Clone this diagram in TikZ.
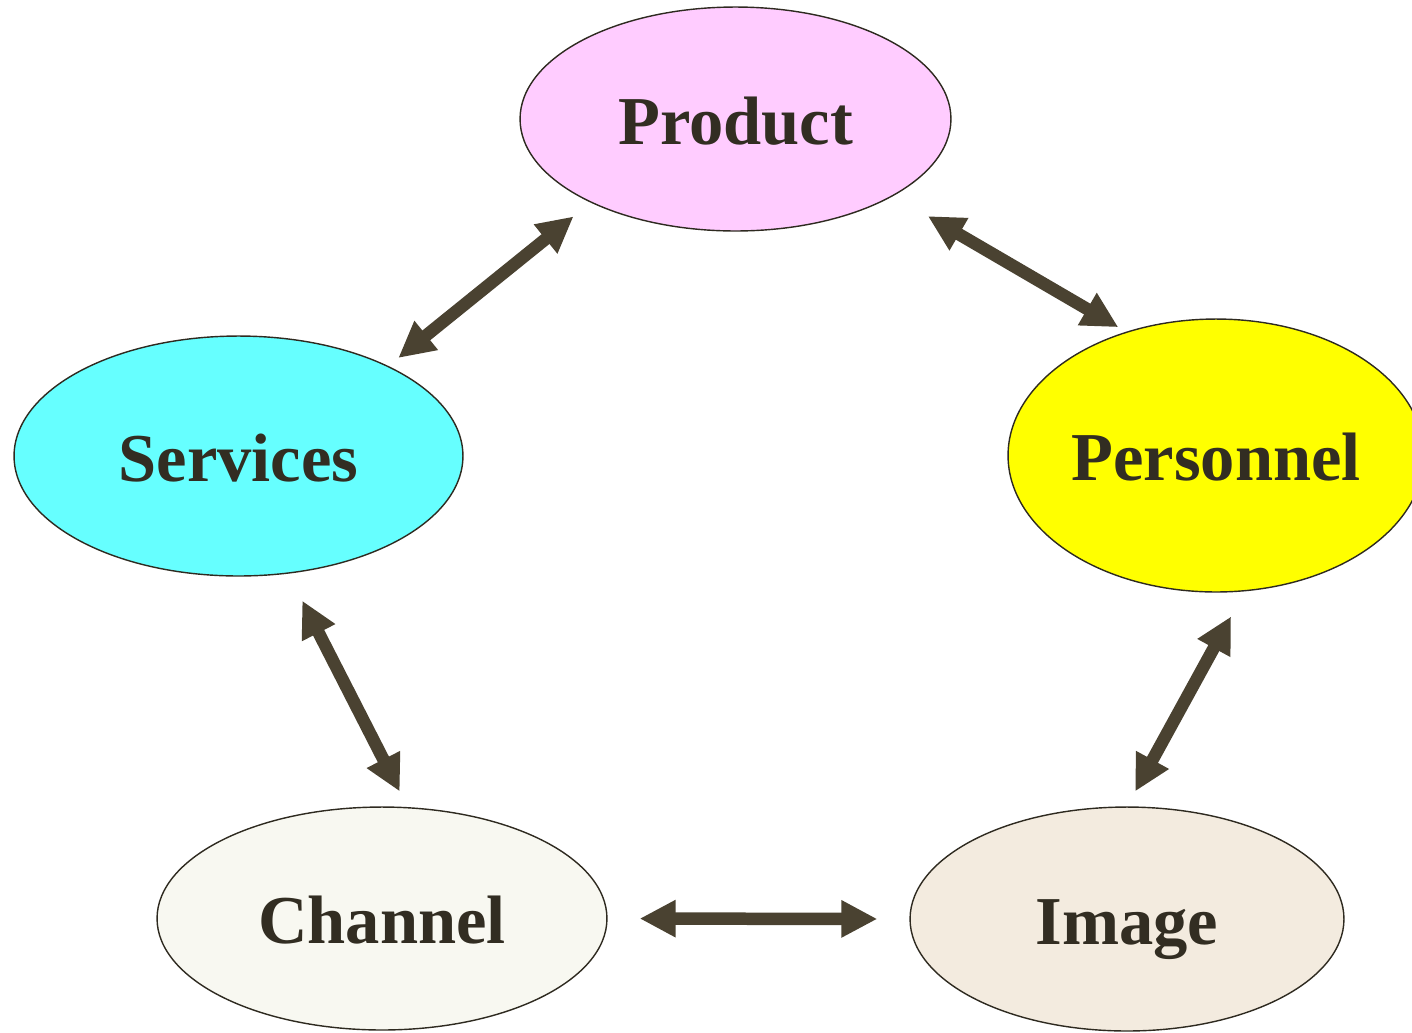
\documentclass[tikz,border=0pt]{standalone}
\usepackage{fontspec}
\setmainfont{Liberation Serif}
\usetikzlibrary{shapes.geometric,arrows.meta}
\definecolor{prdfill}{HTML}{FFCCFF}
\definecolor{srvfill}{HTML}{66FFFF}
\definecolor{perfill}{HTML}{FFFF00}
\definecolor{chnfill}{HTML}{F8F8F1}
\definecolor{imgfill}{HTML}{F3EBDF}
\definecolor{edgecol}{HTML}{2E2A20}
\definecolor{txtcol}{HTML}{322D22}
\definecolor{arrowcol}{HTML}{4A4231}
\begin{document}
\begin{tikzpicture}[x=0.02cm,y=0.02cm,
  blob/.style={ellipse,draw=edgecol,line width=0.8pt,inner sep=0pt,text=txtcol,
    font=\fontsize{39}{47}\selectfont\bfseries,text height=29pt,text depth=0pt},
  link/.style={draw=arrowcol,line width=0.25cm,
    {Triangle[length=0.72cm,width=0.7cm]}-{Triangle[length=0.72cm,width=0.7cm]}}]
\useasboundingbox (0,0) rectangle (1412,-1032);
% the five ellipses
\node [blob,fill=prdfill,minimum width=8.62cm,minimum height=4.48cm] (prd) at (735.5,-119) {Product};
\node [blob,fill=srvfill,minimum width=8.98cm,minimum height=4.8cm] (srv) at (238.5,-456) {Services};
\node [blob,fill=perfill,minimum width=8.32cm,minimum height=5.46cm] (per) at (1216,-455.5) {Personnel};
\node [blob,fill=chnfill,minimum width=9cm,minimum height=4.46cm] (chn) at (382,-918.5) {Channel};
\node [blob,fill=imgfill,minimum width=8.68cm,minimum height=4.48cm] (img) at (1127,-919) {Image};
% two-way arrows
\draw [link,shorten <=0.254cm,shorten >=0.44cm] (srv.31) -- (prd.210);
\draw [link,shorten <=0.8cm,shorten >=0.18cm] (prd.334) -- (per.126);
\draw [link,shorten <=0.606cm,shorten >=0.35cm] (srv.293) -- (chn.77);
\draw [link,shorten <=0.572cm,shorten >=0.34cm] (per.282) -- (img.90);
\draw [link,shorten <=0.64cm,shorten >=0.64cm] (chn.east) -- (img.west);
\end{tikzpicture}
\end{document}
